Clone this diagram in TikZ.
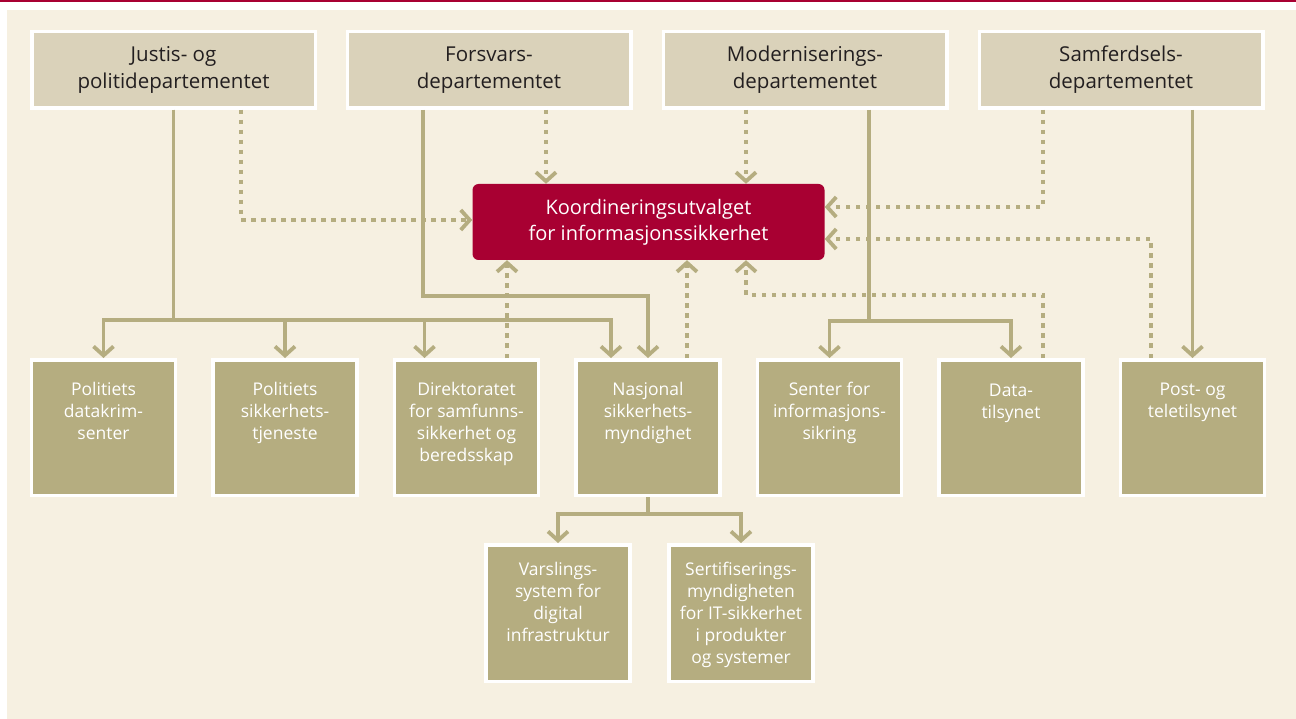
\documentclass[tikz,border=0pt]{standalone}
\usepackage{fontspec}
\setmainfont{Open Sans}
\usetikzlibrary{arrows.meta}
\definecolor{crimson}{RGB}{168,0,50}
\definecolor{paper}{RGB}{246,240,225}
\definecolor{sand}{RGB}{218,210,186}
\definecolor{khaki}{RGB}{181,173,128}
\definecolor{ink}{RGB}{35,31,32}
\newcommand{\toptext}[2][90pt]{\parbox[c][#1][t]{144pt}{\centering #2}}

\begin{document}
\begin{tikzpicture}[x=1pt,y=-1pt,
    dept/.style={draw=white,line width=3.5pt,fill=sand,text=ink,align=center,
      minimum width=283.5pt,minimum height=76.5pt,inner sep=0pt,
      font=\fontsize{20.5}{27}\selectfont},
    unit/.style={draw=white,line width=3.5pt,fill=khaki,text=white,
      minimum width=143.5pt,minimum height=135.5pt,inner sep=0pt,
      font=\fontsize{17.5}{22}\selectfont},
    link/.style={draw=khaki,line width=3.8pt,-{Straight Barb[length=9pt,width=20pt]}},
    dots/.style={link,dash pattern=on 4.5pt off 5.5pt}]
  \useasboundingbox (0,0) rectangle (1296,719);
  \fill[paper] (7,10) rectangle (1296,719);
  \fill[crimson] (0,0) rectangle (1296,2.5);

  % departementene
  \node[dept] (j) at (173.5,70) {Justis- og\\politidepartementet};
  \node[dept] (f) at (489,70) {Forsvars-\\departementet};
  \node[dept] (m) at (805,70) {Moderniserings-\\departementet};
  \node[dept] (s) at (1121,70) {Samferdsels-\\departementet};

  \node[fill=crimson,rounded corners=6pt,minimum width=352pt,minimum height=76pt,
    text=white,align=center,font=\fontsize{20}{26}\selectfont]
    (k) at (648.5,222) {Koordineringsutvalget\\for informasjonssikkerhet};

  % underliggende etater
  \node[unit] (pd) at (103.5,427.5) {\toptext{Politiets\\datakrim-\\senter}};
  \node[unit] (ps) at (285,427.5) {\toptext{Politiets\\sikkerhets-\\tjeneste}};
  \node[unit] (dsb) at (466.5,427.5) {\toptext{Direktoratet\\for samfunns-\\sikkerhet og\\beredsskap}};
  \node[unit] (nsm) at (648,427.5) {\toptext{Nasjonal\\sikkerhets-\\myndighet}};
  \node[unit] (nis) at (829.5,427.5) {\toptext{Senter for\\informasjons-\\sikring}};
  \node[unit] (dt) at (1011,427.5) {\toptext[86pt]{Data-\\tilsynet}};
  \node[unit] (pt) at (1192.5,427.5) {\toptext[88pt]{Post- og\\teletilsynet}};
  \node[unit,minimum height=136.5pt] (vdi) at (558,613)
    {\toptext[101pt]{Varslings-\\system for\\digital\\infrastruktur}};
  \node[unit,minimum height=136.5pt] (sert) at (741,613)
    {\toptext[101pt]{Sertifiserings-\\myndigheten\\for IT-sikkerhet\\i produkter\\og systemer}};

  \coordinate (jb) at (0,320);
  \coordinate (fb) at (0,296);
  \coordinate (mb) at (0,321);
  \coordinate (nb) at (0,514);
  \coordinate (dsbin) at ([xshift=-42pt]dsb.north);
  \coordinate (nsmin) at ([xshift=-37pt]nsm.north);

  % styringslinjer
  \draw[link] (j.south) |- (pd.north |- jb) -- (pd.north);
  \draw[link] (j.south) |- (ps.north |- jb) -- (ps.north);
  \draw[link] (j.south) |- (dsbin |- jb) -- (dsbin);
  \draw[link] (j.south) |- (nsmin |- jb) -- (nsmin);
  \draw[link] ([xshift=-66pt]f.south) |- (nsm.north |- fb) -- (nsm.north);
  \draw[link] ([xshift=64pt]m.south) |- (nis.north |- mb) -- (nis.north);
  \draw[link] ([xshift=64pt]m.south) |- (dt.north |- mb) -- (dt.north);
  \draw[link] ([xshift=71.5pt]s.south) -- (pt.north);
  \draw[link] (nsm.south) |- (vdi.north |- nb) -- (vdi.north);
  \draw[link] (nsm.south) |- (sert.north |- nb) -- (sert.north);

  % koordinering
  \draw[dots] ([xshift=67.5pt]j.south) |- ([yshift=2pt]k.west);
  \draw[dots] ([xshift=57pt]f.south) -- ([xshift=-102.5pt]k.north);
  \draw[dots] ([xshift=-59pt]m.south) -- ([xshift=97.5pt]k.north);
  \draw[dots] ([xshift=-78pt]s.south) |- ([yshift=15pt]k.east);
  \draw[dots] ([xshift=-41.5pt]pt.north) |- ([yshift=-17pt]k.east);
  \draw[dots] ([xshift=32pt]dt.north) -- ++(0,-63) -| ([xshift=97.5pt]k.south);
  \draw[dots] ([xshift=39pt]nsm.north) -- ([xshift=38.5pt]k.south);
  \draw[dots] ([xshift=40.5pt]dsb.north) -- ([xshift=-141.5pt]k.south);
\end{tikzpicture}
\end{document}
